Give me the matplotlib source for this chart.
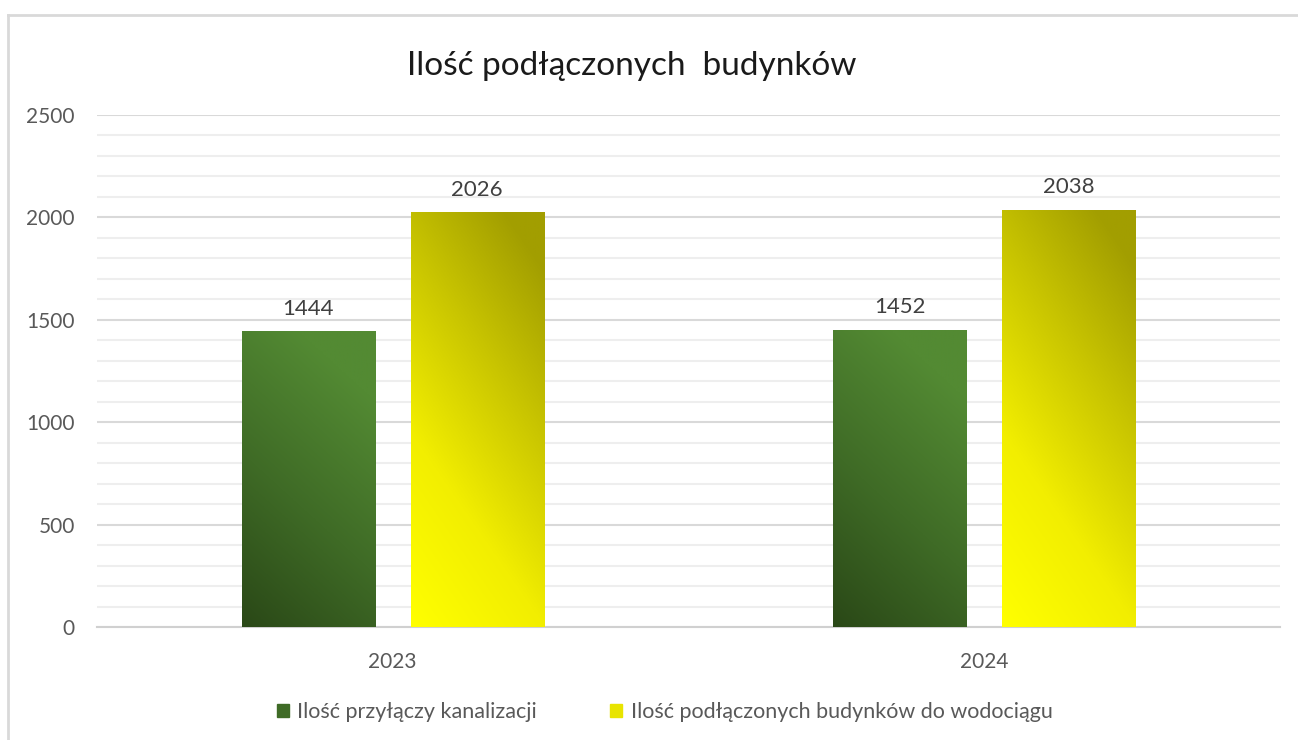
import matplotlib
matplotlib.use("Agg")
import matplotlib.pyplot as plt
import numpy as np
from matplotlib.colors import LinearSegmentedColormap
from matplotlib.patches import Rectangle
from matplotlib.lines import Line2D

plt.rcParams['font.family'] = ['Lato', 'DejaVu Sans']

title = "Ilość podłączonych  budynków"
categories = ["2023", "2024"]
series_names = ["Ilość przyłączy kanalizacji", "Ilość podłączonych budynków do wodociągu"]
kanalizacja = [1444, 1452]
wodociag = [2026, 2038]

fig = plt.figure(figsize=(12.98, 7.40), dpi=100)
ax = fig.add_axes([0.0747, 0.1527, 0.9861 - 0.0747, 0.8446 - 0.1527])

# outer chart border (left and top)
fig.add_artist(Line2D([8/1298, 8/1298], [0, 1 - 15/740], transform=fig.transFigure,
                      color='#d9d9d9', lw=2))
fig.add_artist(Line2D([8/1298, 1], [1 - 15/740, 1 - 15/740], transform=fig.transFigure,
                      color='#d9d9d9', lw=2))

green_cmap = LinearSegmentedColormap.from_list('g', ['#2a4817', '#3f6b26', '#538a33'])
yellow_cmap = LinearSegmentedColormap.from_list('y', [(0, '#ffff00'), (0.35, '#f2ee00'),
                                                      (0.7, '#c8c400'), (1.0, '#a29e00')])

x = np.arange(len(categories))
width = 0.225
off = 0.143

def gradient_bars(xpos, vals, cmap, a, b):
    bars = ax.bar(xpos, vals, width, color='none', edgecolor='none', zorder=3)
    n = 200
    u = np.linspace(0, 1, n)[None, :]
    v = np.linspace(0, 1, n)[:, None]
    t = np.clip(a * u + b * v, 0, 1)
    for r in bars:
        x0, y0 = r.get_x(), r.get_y()
        w, h = r.get_width(), r.get_height()
        im = ax.imshow(t, cmap=cmap, vmin=0, vmax=1, origin='lower', aspect='auto',
                       extent=[x0, x0 + w, y0, y0 + h], zorder=3, interpolation='bilinear')
        im.set_clip_path(r)
    return bars

b1 = gradient_bars(x - off, kanalizacja, green_cmap, 0.35, 0.85)
b2 = gradient_bars(x + off, wodociag, yellow_cmap, 0.35, 0.75)

for bars, vals in ((b1, kanalizacja), (b2, wodociag)):
    for r, v in zip(bars, vals):
        ax.annotate(f"{v}", (r.get_x() + r.get_width() / 2, v), xytext=(0, 9),
                    textcoords='offset points', ha='center', va='bottom',
                    fontsize=16, color='#404040', zorder=4)

ax.set_xlim(-0.5, 1.5)
ax.set_ylim(0, 2500)
ax.set_yticks(np.arange(0, 2501, 500))
ax.set_yticks(np.arange(0, 2501, 100), minor=True)
ax.set_xticks(x)
ax.set_xticklabels(categories)
ax.grid(axis='y', which='major', color='#d9d9d9', lw=1.5, zorder=0)
ax.grid(axis='y', which='minor', color='#eeeeee', lw=1.5, zorder=0)
ax.set_axisbelow(True)
for s in ['top', 'right', 'left']:
    ax.spines[s].set_visible(False)
ax.spines['bottom'].set_color('#d0d0d0')
ax.spines['bottom'].set_linewidth(1.5)
ax.spines['bottom'].set_zorder(2)
ax.tick_params(axis='both', which='both', length=0, labelsize=15, colors='#595959')
ax.tick_params(axis='y', pad=16)
ax.tick_params(axis='x', pad=18)

fig.text(0.4865, 1 - 66/740, title, ha='center', va='center', fontsize=24, color='#1a1a1a')

handles = [Rectangle((0, 0), 1, 1, color='#3f6b26'), Rectangle((0, 0), 1, 1, color='#e8e400')]
fig.legend(handles, series_names, loc='center', bbox_to_anchor=(0.512, 1 - 712/740),
           ncol=2, frameon=False, fontsize=15.5, labelcolor='#595959',
           handlelength=0.55, handleheight=0.55, handletextpad=0.4, columnspacing=3.4)

fig.savefig('out.png', dpi=100)
